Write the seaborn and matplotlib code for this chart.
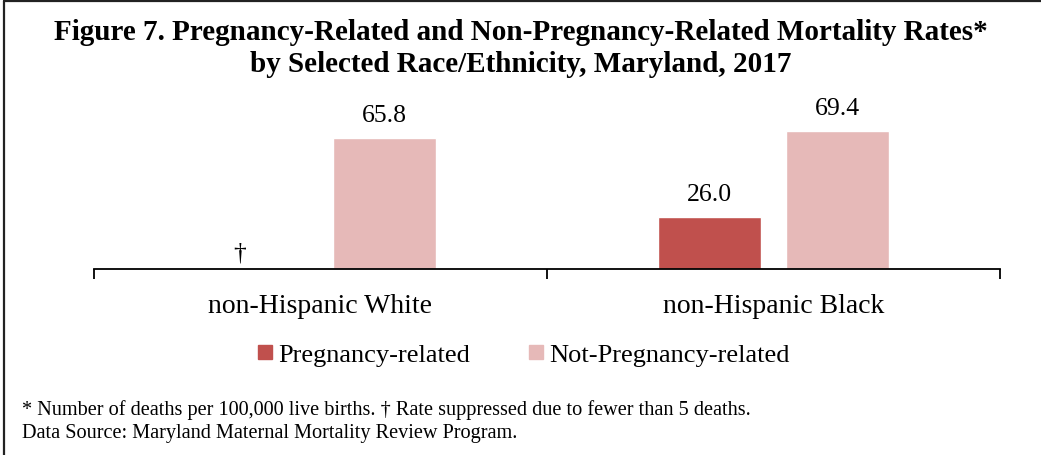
import matplotlib.pyplot as plt
import numpy as np
import pandas as pd
import seaborn as sns
from matplotlib.lines import Line2D

groups = ["non-Hispanic White", "non-Hispanic Black"]
series = ["Pregnancy-related", "Not-Pregnancy-related"]
pregnancy = [np.nan, 26.0]        # White suppressed (fewer than 5 deaths)
not_pregnancy = [65.8, 69.4]
colors = ["#C0504D", "#E6B9B8"]

df = pd.DataFrame({
    "group": groups * 2,
    "series": [series[0]] * 2 + [series[1]] * 2,
    "rate": pregnancy + not_pregnancy,
})

sns.set_theme(style="white")
plt.rcParams["font.family"] = ["Liberation Serif", "DejaVu Serif"]
plt.rcParams["text.color"] = "black"
plt.rcParams["xtick.color"] = "black"

fig = plt.figure(figsize=(10.41, 4.56), dpi=100)
ax = fig.add_axes([94 / 1041, 1 - 270 / 456, 906 / 1041, 170 / 456])

sns.barplot(data=df, x="group", y="rate", hue="series", order=groups,
            hue_order=series, palette=colors, width=0.566, gap=0.2,
            saturation=1, legend=False, ax=ax)

# value labels
for cont in ax.containers:
    for bar in cont:
        h = bar.get_height()
        if np.isnan(h):
            continue
        ax.text(bar.get_x() + bar.get_width() / 2, h + 6, f"{h:.1f}",
                ha="center", va="bottom", fontsize=18.5)
# suppressed rate marker
ax.text(-0.178, 3, "\u2020", ha="center", va="bottom", fontsize=18.5)

ax.set_ylim(0, 85.4)
ax.set_xlim(-0.5, 1.5)
ax.set_yticks([])
ax.set_xlabel("")
ax.set_ylabel("")
for s in ["top", "right", "left"]:
    ax.spines[s].set_visible(False)
ax.spines["bottom"].set_color("black")
ax.spines["bottom"].set_linewidth(1.3)
ax.set_xticks([-0.5, 0.5, 1.5], minor=True)
ax.tick_params(axis="x", which="minor", length=7, width=1.3, color="black",
               direction="out", bottom=True)
ax.tick_params(axis="x", which="major", length=0, labelsize=20, pad=17,
               labelcolor="black")

# legend
handles = [Line2D([], [], marker="s", linestyle="", markersize=10.5,
                  markerfacecolor=c, markeredgecolor=c) for c in colors]
fig.legend(handles, series, loc="center", bbox_to_anchor=(0.5, 1 - 355 / 456),
           ncol=2, frameon=False, fontsize=19, handletextpad=0.0,
           columnspacing=2.0, handlelength=1.0)

fig.text(0.5, 1 - 32 / 456,
         "Figure 7. Pregnancy-Related and Non-Pregnancy-Related Mortality Rates*",
         ha="center", va="center", fontsize=21, fontweight="bold")
fig.text(0.5, 1 - 64 / 456, "by Selected Race/Ethnicity, Maryland, 2017",
         ha="center", va="center", fontsize=21, fontweight="bold")
fig.text(22 / 1041, 1 - 410 / 456,
         "* Number of deaths per 100,000 live births. \u2020 Rate suppressed due to fewer than 5 deaths.",
         ha="left", va="center", fontsize=14.6)
fig.text(22 / 1041, 1 - 434 / 456,
         "Data Source: Maryland Maternal Mortality Review Program.",
         ha="left", va="center", fontsize=14.6)

# top and left frame lines
fig.add_artist(Line2D([4 / 1041, 1], [1 - 2 / 456, 1 - 2 / 456],
                      transform=fig.transFigure, color="#222222", linewidth=1.6))
fig.add_artist(Line2D([4 / 1041, 4 / 1041], [0, 1 - 2 / 456],
                      transform=fig.transFigure, color="#222222", linewidth=1.6))

fig.savefig("out.png", dpi=100)
